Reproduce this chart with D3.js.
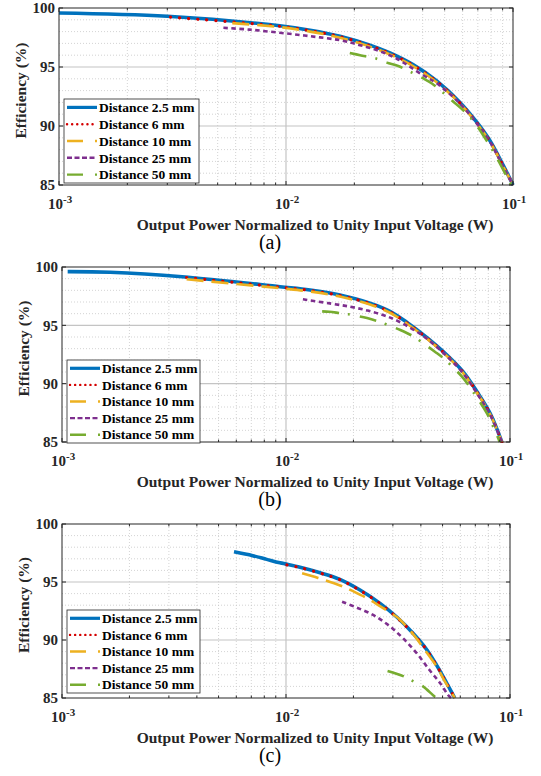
<!DOCTYPE html>
<html>
<head>
<meta charset="utf-8">
<script src="https://cdn.jsdelivr.net/npm/d3@7"></script>
<style>
  body { margin: 0; background: #fff; }
  svg { display: block; }
  text { font-family: "Liberation Serif", "Times New Roman", serif; }
</style>
</head>
<body>
<svg id="chart" width="541" height="776"></svg>
<script>
// legend / series labels
var seriesNames = ['Distance 2.5 mm', 'Distance 6 mm', 'Distance 10 mm', 'Distance 25 mm', 'Distance 50 mm'];
var yTicks = [85, 90, 95, 100];
var xTickExp = [-3, -2, -1];
var captions = ['(a)', '(b)', '(c)'];

// panel (a): [power W, efficiency %]
var a_d2_5 = [[0.001, 99.58], [0.003, 99.3], [0.0094, 98.49], [0.01276, 98.12], [0.01729, 97.61], [0.02344, 96.85], [0.02871, 96.19], [0.03627, 95.2], [0.04627, 93.8], [0.05842, 92.0], [0.06939, 90.3], [0.07918, 88.75], [0.09034, 86.7], [0.1, 85]];
var a_d6 = [[0.0031, 99.22], [0.0094, 98.45], [0.01276, 98.08], [0.01729, 97.57], [0.02344, 96.8], [0.02871, 96.14], [0.03627, 95.15], [0.04627, 93.75], [0.05842, 91.95], [0.06939, 90.25], [0.07918, 88.7], [0.09034, 86.65], [0.1, 85]];
var a_d10 = [[0.0058, 98.72], [0.0094, 98.38], [0.01276, 98.0], [0.01729, 97.48], [0.02344, 96.72], [0.02871, 96.06], [0.03627, 95.08], [0.04627, 93.68], [0.05842, 91.9], [0.06939, 90.2], [0.07918, 88.65], [0.09034, 86.6], [0.1, 85]];
var a_d25 = [[0.0053, 98.32], [0.0069, 98.17], [0.0094, 97.9], [0.01276, 97.61], [0.01729, 97.27], [0.0212, 96.85], [0.02595, 96.33], [0.0308, 95.7], [0.0402, 94.3], [0.04627, 93.6], [0.05842, 91.9], [0.06939, 90.2], [0.07918, 88.65], [0.09034, 86.6], [0.1, 85]];
var a_d50 = [[0.0191, 96.19], [0.0212, 96.0], [0.0251, 95.7], [0.0278, 95.37], [0.0312, 95.08], [0.0363, 94.48], [0.0401, 94.05], [0.0441, 93.58], [0.0499, 92.73], [0.0545, 92.07], [0.0594, 91.45], [0.0667, 90.45], [0.075, 89.03], [0.0848, 87.33], [0.098, 85]];

// panel (b)
var b_d2_5 = [[0.00106, 99.6], [0.00164, 99.55], [0.00344, 99.17], [0.0094, 98.31], [0.0128, 98.03], [0.0174, 97.6], [0.0237, 96.9], [0.0291, 96.2], [0.0347, 95.25], [0.0426, 93.95], [0.0523, 92.46], [0.0617, 91.03], [0.0713, 89.3], [0.0815, 87.46], [0.092, 85]];
var b_d6 = [[0.0036, 99.1], [0.0094, 98.27], [0.0128, 97.99], [0.0174, 97.55], [0.0237, 96.86], [0.0291, 96.15], [0.0347, 95.2], [0.0426, 93.9], [0.0523, 92.41], [0.0617, 90.98], [0.0713, 89.25], [0.0815, 87.42], [0.092, 85]];
var b_d10 = [[0.0036, 98.95], [0.0094, 98.18], [0.0128, 97.9], [0.0174, 97.47], [0.0237, 96.78], [0.0291, 96.08], [0.0347, 95.14], [0.0426, 93.85], [0.0523, 92.36], [0.0617, 90.93], [0.0713, 89.2], [0.0815, 87.38], [0.092, 85]];
var b_d25 = [[0.0119, 97.23], [0.0157, 96.88], [0.0193, 96.6], [0.023, 96.28], [0.0271, 95.89], [0.0313, 95.4], [0.0409, 94.1], [0.0523, 92.35], [0.0617, 90.9], [0.0713, 89.15], [0.0815, 87.35], [0.092, 85]];
var b_d50 = [[0.0145, 96.2], [0.0156, 96.16], [0.0172, 96.06], [0.019, 95.95], [0.023, 95.62], [0.0254, 95.38], [0.028, 95.09], [0.0324, 94.6], [0.0365, 94.12], [0.0397, 93.66], [0.0462, 92.74], [0.0503, 92.2], [0.054, 91.65], [0.0617, 90.5], [0.0684, 89.3], [0.0789, 87.45], [0.09, 85]];

// panel (c)
var c_d2_5 = [[0.00586, 97.6], [0.0071, 97.27], [0.0082, 96.95], [0.0094, 96.65], [0.01155, 96.27], [0.0142, 95.8], [0.0174, 95.23], [0.0214, 94.31], [0.0263, 93.16], [0.0313, 91.96], [0.0369, 90.58], [0.0426, 89.14], [0.0488, 87.3], [0.0523, 86.25], [0.0567, 85]];
var c_d6 = [[0.0101, 96.47], [0.01155, 96.24], [0.0142, 95.77], [0.0174, 95.2], [0.0214, 94.28], [0.0263, 93.13], [0.0313, 91.93], [0.0369, 90.55], [0.0426, 89.1], [0.0488, 87.27], [0.0523, 86.22], [0.0567, 85]];
var c_d10 = [[0.0118, 95.75], [0.0139, 95.35], [0.0152, 95.1], [0.018, 94.6], [0.0197, 94.25], [0.0233, 93.55], [0.0254, 93.1], [0.0301, 92.2], [0.0323, 91.75], [0.0384, 90.1], [0.0409, 89.35], [0.0471, 87.7], [0.0503, 86.7], [0.0567, 85]];
var c_d25 = [[0.0178, 93.3], [0.0207, 92.79], [0.0245, 92.16], [0.029, 91.2], [0.0333, 90.15], [0.0384, 88.85], [0.0437, 87.41], [0.0488, 86.27], [0.0529, 85.26], [0.0545, 85]];
var c_d50 = [[0.0284, 87.33], [0.0338, 86.84], [0.0372, 86.41], [0.041, 85.98], [0.0462, 85.11], [0.0475, 85]];

var styles = [
    { color: '#0072BD', width: 3.6, dash: null,          cap: 'butt',  legendDash: null,           legendCap: 'butt' },
    { color: '#D40000', width: 3.2, dash: '0.1,9',       cap: 'round', legendDash: '0.1,5',        legendCap: 'round' },
    { color: '#EDB120', width: 2.6, dash: '17,8',        cap: 'butt',  legendDash: '16,12,3,20',   legendCap: 'butt' },
    { color: '#7E2F8E', width: 2.6, dash: '4.5,3.5',     cap: 'butt',  legendDash: '5,2.5',        legendCap: 'butt' },
    { color: '#77AC30', width: 2.6, dash: '17,9,2,10',   cap: 'butt',  legendDash: '16,12,2,20',   legendCap: 'butt' }
];

var panels = [
    { box: [59, 8, 513, 185],   legend: [64, 99, 199, 183],  ylab: 21, series: [a_d2_5, a_d6, a_d10, a_d25, a_d50] },
    { box: [62, 267, 510, 442], legend: [67, 360, 200, 443], ylab: 24, series: [b_d2_5, b_d6, b_d10, b_d25, b_d50] },
    { box: [62, 524, 510, 698], legend: [67, 610, 200, 693], ylab: 24, series: [c_d2_5, c_d6, c_d10, c_d25, c_d50] }
];

var svg = d3.select('#chart');

panels.forEach(function(p, pi) {
    var L = p.box[0], T = p.box[1], R = p.box[2], B = p.box[3];
    var x = d3.scaleLog().domain([1e-3, 1e-1]).range([L, R]);
    var y = d3.scaleLinear().domain([85, 100]).range([B, T]);
    var g = svg.append('g');

    // minor grid
    var minorX = [];
    [1e-3, 1e-2].forEach(function(dec) {
        for (var k = 2; k <= 9; k++) minorX.push(dec * k);
    });
    var minorY = d3.range(86, 100).filter(function(v) { return v % 5 !== 0; });

    g.selectAll('line.mgx').data(minorX).enter().append('line')
        .attr('x1', function(d) { return x(d); }).attr('x2', function(d) { return x(d); })
        .attr('y1', T).attr('y2', B)
        .attr('stroke', '#c8c8c8').attr('stroke-width', 0.8).attr('stroke-dasharray', '1,2');
    g.selectAll('line.mgy').data(minorY).enter().append('line')
        .attr('y1', function(d) { return y(d); }).attr('y2', function(d) { return y(d); })
        .attr('x1', L).attr('x2', R)
        .attr('stroke', '#c8c8c8').attr('stroke-width', 0.8).attr('stroke-dasharray', '1,2');

    // major grid
    g.selectAll('line.gx').data([1e-2]).enter().append('line')
        .attr('x1', function(d) { return x(d); }).attr('x2', function(d) { return x(d); })
        .attr('y1', T).attr('y2', B)
        .attr('stroke', '#c4c4c4').attr('stroke-width', 1.2);
    g.selectAll('line.gy').data([90, 95]).enter().append('line')
        .attr('y1', function(d) { return y(d); }).attr('y2', function(d) { return y(d); })
        .attr('x1', L).attr('x2', R)
        .attr('stroke', '#c4c4c4').attr('stroke-width', 1.2);

    // curves
    var line = d3.line()
        .x(function(d) { return x(d[0]); })
        .y(function(d) { return y(d[1]); })
        .curve(d3.curveCatmullRom.alpha(0.5));

    var clipId = 'clip' + pi;
    svg.append('clipPath').attr('id', clipId).append('rect')
        .attr('x', L).attr('y', T - 2).attr('width', R - L + 2).attr('height', B - T + 3);

    p.series.forEach(function(data, si) {
        var s = styles[si];
        g.append('path')
            .attr('d', line(data))
            .attr('fill', 'none')
            .attr('clip-path', 'url(#' + clipId + ')')
            .attr('stroke', s.color)
            .attr('stroke-width', s.width)
            .attr('stroke-linecap', s.cap)
            .attr('stroke-dasharray', s.dash);
    });

    // axes box + ticks
    var tickLen = 4;
    g.append('rect').attr('x', L).attr('y', T).attr('width', R - L).attr('height', B - T)
        .attr('fill', 'none').attr('stroke', '#262626').attr('stroke-width', 1);

    var majorX = xTickExp.map(function(e) { return Math.pow(10, e); });
    var allX = majorX.concat(minorX);
    allX.forEach(function(v) {
        var len = majorX.indexOf(v) >= 0 ? tickLen : tickLen * 0.6;
        g.append('line').attr('x1', x(v)).attr('x2', x(v)).attr('y1', B).attr('y2', B - len).attr('stroke', '#262626');
        g.append('line').attr('x1', x(v)).attr('x2', x(v)).attr('y1', T).attr('y2', T + len).attr('stroke', '#262626');
    });
    yTicks.forEach(function(v) {
        g.append('line').attr('x1', L).attr('x2', L + tickLen).attr('y1', y(v)).attr('y2', y(v)).attr('stroke', '#262626');
        g.append('line').attr('x1', R).attr('x2', R - tickLen).attr('y1', y(v)).attr('y2', y(v)).attr('stroke', '#262626');
    });

    // tick labels
    g.selectAll('text.yt').data(yTicks).enter().append('text')
        .attr('x', L - 4).attr('y', function(d) { return y(d); })
        .attr('dy', '0.35em')
        .attr('text-anchor', 'end')
        .attr('font-size', 15).attr('font-weight', 'bold').attr('fill', '#262626')
        .text(function(d) { return d; });

    xTickExp.forEach(function(e) {
        var t = g.append('text')
            .attr('x', x(Math.pow(10, e)) - 11).attr('y', B + 24)
            .attr('font-size', 15).attr('font-weight', 'bold').attr('fill', '#262626');
        t.append('tspan').text('10');
        t.append('tspan').attr('dy', -6).attr('font-size', 11).text(e);
    });

    // axis labels
    g.append('text')
        .attr('transform', 'translate(' + p.ylab + ',' + ((T + B) / 2 - 6) + ') rotate(-90)')
        .attr('dy', '0.35em')
        .attr('text-anchor', 'middle')
        .attr('font-size', 15.5).attr('font-weight', 'bold').attr('fill', '#262626')
        .text('Efficiency (%)');

    g.append('text')
        .attr('x', (L + R) / 2 + 29).attr('y', B + 45)
        .attr('text-anchor', 'middle')
        .attr('font-size', 15.5).attr('font-weight', 'bold').attr('fill', '#262626')
        .text('Output Power Normalized to Unity Input Voltage (W)');

    g.append('text')
        .attr('x', 270).attr('y', B + 64)
        .attr('text-anchor', 'middle')
        .attr('font-size', 20).attr('fill', '#000')
        .text(captions[pi]);

    // legend
    var lg = p.legend;
    g.append('rect').attr('x', lg[0]).attr('y', lg[1]).attr('width', lg[2] - lg[0]).attr('height', lg[3] - lg[1])
        .attr('fill', '#fff').attr('stroke', '#262626').attr('stroke-width', 0.8);
    var rowH = (lg[3] - lg[1]) / seriesNames.length;
    seriesNames.forEach(function(name, si) {
        var s = styles[si];
        var cy = lg[1] + rowH * (si + 0.5);
        g.append('line')
            .attr('x1', lg[0] + 3).attr('x2', lg[0] + 33)
            .attr('y1', cy).attr('y2', cy)
            .attr('stroke', s.color)
            .attr('stroke-width', si === 0 ? 3.2 : 2.4)
            .attr('stroke-linecap', s.legendCap)
            .attr('stroke-dasharray', s.legendDash);
        g.append('text')
            .attr('x', lg[0] + 35).attr('y', cy)
            .attr('dy', '0.35em')
            .attr('font-size', 13.5).attr('font-weight', 'bold').attr('fill', '#000')
            .text(name);
    });
});
</script>
</body>
</html>
